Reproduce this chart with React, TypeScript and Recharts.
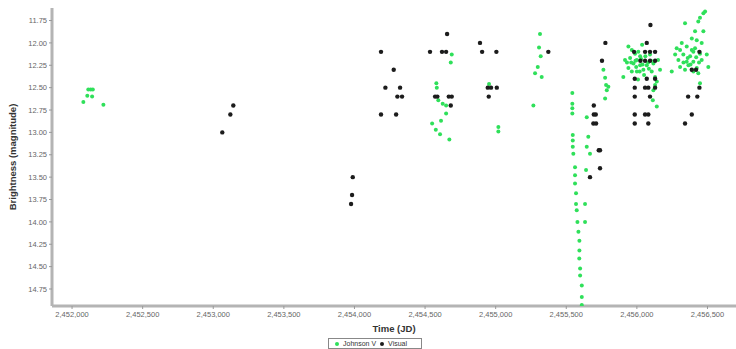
// Light curve: Johnson V and visual magnitudes against Julian Date
import React from 'react';
import {
  ScatterChart,
  Scatter,
  XAxis,
  YAxis,
  Label,
} from 'recharts';

// Johnson V photometry [JD, magnitude]
const johnsonV: [number, number][] = [
  [2452115, 12.52], [2452132, 12.52], [2452147, 12.52], [2452108, 12.59],
  [2452142, 12.6], [2452080, 12.66], [2452222, 12.69],
  [2454689, 12.13], [2454682, 12.22], [2454580, 12.45], [2454583, 12.5],
  [2454594, 12.64], [2454625, 12.68], [2454649, 12.7], [2454649, 12.79],
  [2454613, 12.87], [2454550, 12.9], [2454576, 12.97], [2454606, 13.02],
  [2454672, 13.08],
  [2454953, 12.46], [2455019, 12.94], [2455019, 12.99],
  [2455314, 11.9], [2455307, 12.05], [2455319, 12.15], [2455298, 12.27],
  [2455279, 12.34], [2455326, 12.38], [2455267, 12.7],
  [2455543, 12.56], [2455543, 12.68], [2455543, 12.73], [2455543, 12.79],
  [2455546, 13.03], [2455546, 13.09], [2455546, 13.16], [2455550, 13.24],
  [2455562, 13.39], [2455562, 13.48], [2455562, 13.57], [2455569, 13.68],
  [2455569, 13.8], [2455574, 13.87], [2455579, 14.0], [2455586, 14.11],
  [2455593, 14.21], [2455593, 14.32], [2455592, 14.41], [2455598, 14.52],
  [2455598, 14.6], [2455610, 14.71], [2455610, 14.84], [2455610, 14.93],
  [2455640, 13.42], [2455633, 13.8], [2455633, 14.0], [2455645, 12.83],
  [2455656, 13.05], [2455645, 13.16], [2455668, 13.24],
  [2455763, 12.3], [2455775, 12.39], [2455782, 12.47], [2455798, 12.49],
  [2455787, 12.53], [2455775, 12.62],
  [2455940, 12.04], [2455964, 12.08], [2455987, 12.12], [2455952, 12.17],
  [2456000, 12.19], [2455976, 12.23], [2456023, 12.15], [2456023, 12.25],
  [2455940, 12.28], [2455904, 12.38], [2455964, 12.32], [2456000, 12.32],
  [2456046, 12.3], [2456070, 12.25], [2456117, 12.23], [2456105, 12.32],
  [2456129, 12.38], [2456141, 12.43], [2456129, 12.47], [2456117, 12.53],
  [2456113, 12.64], [2456141, 12.71], [2456164, 12.3], [2456150, 12.19],
  [2456037, 12.02], [2455916, 12.19], [2456008, 12.41], [2456051, 12.36],
  [2456093, 12.13], [2455990, 12.2], [2456010, 12.1], [2456030, 12.18],
  [2456060, 12.15], [2456080, 12.22], [2455960, 12.22], [2455995, 12.27],
  [2456040, 12.24], [2456100, 12.2], [2456020, 12.32], [2455930, 12.22],
  [2456085, 12.29],
  [2456471, 11.67], [2456447, 11.72], [2456483, 11.65], [2456435, 11.76],
  [2456341, 11.78], [2456412, 11.87], [2456471, 11.87], [2456389, 11.95],
  [2456424, 11.97], [2456318, 12.0], [2456459, 12.0], [2456282, 12.06],
  [2456306, 12.08], [2456353, 12.04], [2456389, 12.08], [2456412, 12.06],
  [2456271, 12.13], [2456329, 12.13], [2456377, 12.15], [2456447, 12.12],
  [2456495, 12.13], [2456294, 12.19], [2456353, 12.21], [2456400, 12.21],
  [2456459, 12.19], [2456306, 12.27], [2456365, 12.25], [2456424, 12.28],
  [2456506, 12.27], [2456247, 12.32], [2456341, 12.3], [2456400, 12.32],
  [2456435, 12.34], [2456447, 12.45], [2456360, 12.17], [2456420, 12.16],
  [2456380, 12.24], [2456440, 12.22], [2456330, 12.22], [2456400, 12.1],
];

// visual estimates [JD, magnitude]
const visual: [number, number][] = [
  [2453142, 12.7], [2453121, 12.8], [2453064, 13.0],
  [2453988, 13.5], [2453983, 13.7], [2453976, 13.8],
  [2454188, 12.1], [2454278, 12.3], [2454219, 12.5], [2454323, 12.5],
  [2454304, 12.6], [2454337, 12.6], [2454188, 12.8], [2454295, 12.8],
  [2454535, 12.1], [2454620, 12.1], [2454649, 12.1], [2454656, 11.9],
  [2454571, 12.6], [2454587, 12.6], [2454668, 12.6], [2454689, 12.6],
  [2454682, 12.7],
  [2454889, 12.0], [2454904, 12.1], [2455005, 12.1], [2454944, 12.5],
  [2454967, 12.5], [2455008, 12.5], [2454951, 12.6],
  [2455373, 12.1],
  [2455777, 12.0], [2455753, 12.2], [2455695, 12.7], [2455695, 12.8],
  [2455709, 12.8], [2455692, 12.9], [2455711, 12.9], [2455730, 13.2],
  [2455739, 13.2], [2455739, 13.4], [2455668, 13.5],
  [2456096, 11.8], [2456070, 12.0], [2455980, 12.1], [2456058, 12.1],
  [2456093, 12.1], [2456129, 12.1], [2456025, 12.2], [2456058, 12.2],
  [2456093, 12.2], [2456129, 12.2], [2455985, 12.4], [2456070, 12.4],
  [2456129, 12.4], [2455985, 12.5], [2456058, 12.5], [2456081, 12.5],
  [2456129, 12.5], [2455985, 12.6], [2456093, 12.6], [2455985, 12.8],
  [2456058, 12.8], [2456081, 12.8], [2455985, 12.9], [2456081, 12.9],
  [2456443, 12.1], [2456389, 12.3], [2456419, 12.3], [2456443, 12.5],
  [2456363, 12.6], [2456428, 12.6], [2456389, 12.8], [2456341, 12.9],
];

const jdTicks = [
  2452000, 2452500, 2453000, 2453500, 2454000,
  2454500, 2455000, 2455500, 2456000, 2456500,
];
const magTicks = [
  11.75, 12.0, 12.25, 12.5, 12.75, 13.0, 13.25,
  13.5, 13.75, 14.0, 14.25, 14.5, 14.75,
];

const toPoints = (rows: [number, number][]) =>
  rows.map(([jd, mag]) => ({ jd, mag }));

const GREEN = '#2fe05a';
const BLACK = '#1c1c1c';
const FONT = '"Liberation Sans", Arial, sans-serif';

const tickStyle = { fill: '#666', fontSize: 7.5, fontFamily: FONT };

function Dot({ cx, cy, color, r }: any) {
  if (cx == null || cy == null) return null;
  return <circle cx={cx} cy={cy} r={r} fill={color} />;
}

function YTitle({ viewBox }: any) {
  const cy = viewBox.y + viewBox.height / 2;
  return (
    <text
      x={12}
      y={cy}
      transform={`rotate(-90, 12, ${cy})`}
      textAnchor="middle"
      dominantBaseline="central"
      fontFamily={FONT}
      fontWeight="bold"
      fontSize={9.5}
      fill="#333"
    >
      Brightness (magnitude)
    </text>
  );
}

export default function App() {
  return (
    <div
      style={{
        position: 'absolute',
        left: 0,
        top: 0,
        width: 736,
        height: 349,
        overflow: 'hidden',
        background: '#fff',
      }}
    >
      <ScatterChart
        width={736}
        height={349}
        margin={{ top: 8, right: 0, bottom: 0, left: 0 }}
      >
        <XAxis
          xAxisId="top"
          orientation="top"
          dataKey="jd"
          type="number"
          domain={[2451858, 2456702]}
          height={0}
          tick={false}
          tickLine={false}
          axisLine={{ stroke: '#d4d4d4', strokeWidth: 3 }}
        />
        <XAxis
          dataKey="jd"
          type="number"
          domain={[2451858, 2456702]}
          allowDataOverflow
          ticks={jdTicks}
          tickFormatter={(v: number) => v.toLocaleString('en-US')}
          tick={tickStyle}
          tickSize={3}
          tickMargin={3}
          tickLine={{ stroke: '#999' }}
          axisLine={{ stroke: '#b4b4b4', strokeWidth: 3 }}
          height={43}
        >
          <Label
            value="Time (JD)"
            position="insideTop"
            offset={19}
            style={{ fontFamily: FONT, fontWeight: 'bold', fontSize: 9.5, fill: '#333' }}
          />
        </XAxis>
        <YAxis
          dataKey="mag"
          type="number"
          reversed
          domain={[11.61, 14.94]}
          allowDataOverflow
          ticks={magTicks}
          tickFormatter={(v: number) => v.toFixed(2)}
          tick={tickStyle}
          tickSize={3}
          tickMargin={2}
          tickLine={{ stroke: '#999' }}
          axisLine={{ stroke: '#b4b4b4', strokeWidth: 3 }}
          width={52}
        >
          <Label content={<YTitle />} />
        </YAxis>
        <Scatter
          name="Johnson V"
          data={toPoints(johnsonV)}
          isAnimationActive={false}
          shape={(p: any) => <Dot {...p} color={GREEN} r={2} />}
        />
        <Scatter
          name="Visual"
          data={toPoints(visual)}
          isAnimationActive={false}
          shape={(p: any) => <Dot {...p} color={BLACK} r={2.2} />}
        />
      </ScatterChart>
      <div
        style={{
          position: 'absolute',
          left: 328,
          top: 338,
          width: 94,
          height: 11,
          border: '1px solid #888',
          fontFamily: FONT,
          fontSize: 7,
          lineHeight: '9px',
          color: '#333',
          display: 'flex',
          alignItems: 'center',
          gap: 4,
          paddingLeft: 6,
          boxSizing: 'border-box',
        }}
      >
        <span style={{ width: 4, height: 4, borderRadius: 2, background: GREEN }} />
        <span>Johnson V</span>
        <span style={{ width: 4, height: 4, borderRadius: 2, background: BLACK }} />
        <span>Visual</span>
      </div>
    </div>
  );
}
